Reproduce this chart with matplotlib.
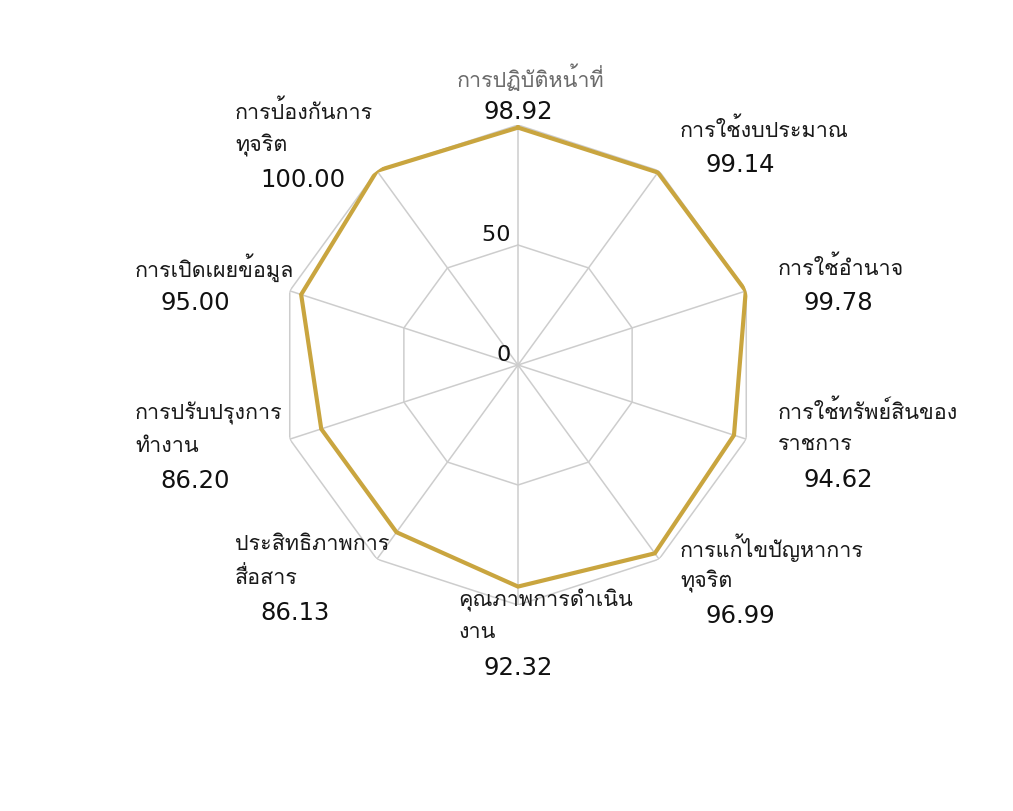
import numpy as np
import matplotlib
matplotlib.use("Agg")
import matplotlib.pyplot as plt
from matplotlib import font_manager as fm
from matplotlib.ft2font import FT2Font

# ข้อมูลคะแนนแต่ละด้าน
categories = [
    "การปฏิบัติหน้าที่",
    "การใช้งบประมาณ",
    "การใช้อำนาจ",
    "การใช้ทรัพย์สินของ\nราชการ",
    "การแก้ไขปัญหาการ\nทุจริต",
    "คุณภาพการดำเนิน\nงาน",
    "ประสิทธิภาพการ\nสื่อสาร",
    "การปรับปรุงการ\nทำงาน",
    "การเปิดเผยข้อมูล",
    "การป้องกันการ\nทุจริต",
]
scores = [98.92, 99.14, 99.78, 94.62, 96.99, 92.32, 86.13, 86.20, 95.00, 100.00]
rings = [50, 100]
ring_labels = ["0", "50"]


def find_thai_font():
    # หาฟอนต์ที่มีอักษรไทย
    for f in fm.fontManager.ttflist:
        try:
            if 0x0E01 in FT2Font(f.fname).get_charmap():
                return f.name
        except Exception:
            pass
    return None


thai = find_thai_font()
families = [thai, "DejaVu Sans"] if thai else ["DejaVu Sans"]
plt.rcParams["font.family"] = families
num_font = "DejaVu Sans"

W, H = 1013, 811
fig = plt.figure(figsize=(W / 100, H / 100), dpi=100)
fig.patch.set_facecolor("white")

cx, cy, R = 518, 365, 240
ax = fig.add_axes([(cx - R) / W, (H - cy - R) / H, 2 * R / W, 2 * R / H],
                  projection="polar")
ax.set_theta_offset(np.pi / 2)
ax.set_theta_direction(-1)
ax.set_ylim(0, 100)
ax.grid(False)
ax.spines["polar"].set_visible(False)
ax.set_xticks([])
ax.set_yticks([])
ax.patch.set_alpha(0)

n = len(categories)
angles = np.linspace(0, 2 * np.pi, n, endpoint=False)
closed = np.concatenate([angles, angles[:1]])

# เส้นกริดรูปหลายเหลี่ยม
grid_color = "#cdcdcd"
for r in rings:
    ax.plot(closed, [r] * (n + 1), color=grid_color, lw=1.1, zorder=1)
for a in angles:
    ax.plot([a, a], [0, rings[-1]], color=grid_color, lw=1.1, zorder=1)

# เส้นคะแนน
vals = scores + scores[:1]
ax.plot(closed, vals, color="#c9a53f", lw=3.0, zorder=3, solid_joinstyle="miter")

# ป้ายแกน 0 และ 50
ax.text(0, 0, ring_labels[0] + " ", ha="right", va="bottom", fontsize=16,
        family=num_font, color="#111111", zorder=4)
ax.text(0, rings[0], ring_labels[1] + " ", ha="right", va="bottom", fontsize=16,
        family=num_font, color="#111111", zorder=4)

# ตำแหน่งป้ายชื่อ (พิกเซล: ซ้าย, กึ่งกลางบรรทัดแรก)
label_pos = [(531, 78), (680, 130), (778, 268), (778, 412), (680, 548),
             (458, 600), (235, 545), (135, 413), (135, 268), (235, 112)]
line_h = 33


def px(x, y):
    return x / W, 1 - y / H


for i, (name, val) in enumerate(zip(categories, scores)):
    x, y = label_pos[i]
    lines = name.split("\n")
    if i == 0:
        fig.text(*px(x, y), lines[0], ha="center", va="center", fontsize=15.5,
                 color="#6b6b6b")
        fig.text(*px(518, y + 34), f"{val:.2f}", ha="center", va="center",
                 fontsize=17.5, family=num_font, color="#111111")
        continue
    for j, line in enumerate(lines):
        fig.text(*px(x, y + j * line_h), line, ha="left", va="center",
                 fontsize=15.5, color="#1a1a1a")
    fig.text(*px(x + 25, y + len(lines) * line_h + 2), f"{val:.2f}",
             ha="left", va="center", fontsize=17.5, family=num_font,
             color="#111111")

fig.savefig("out.png", dpi=100, facecolor="white")
